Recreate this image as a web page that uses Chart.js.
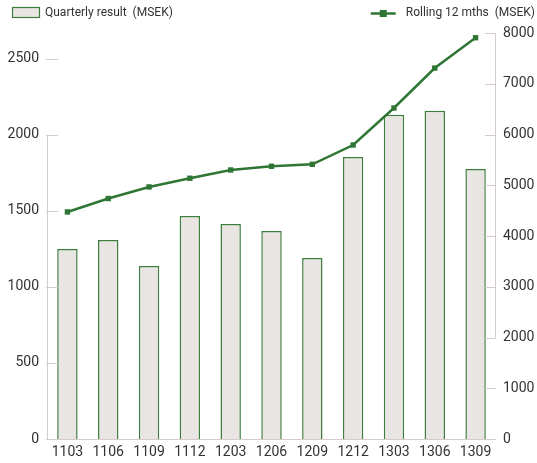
<!DOCTYPE html>
<html>
<head>
<meta charset="utf-8">
<script src="https://cdn.jsdelivr.net/npm/chart.js@4/dist/chart.umd.min.js"></script>
<style>
  html, body { margin: 0; padding: 0; background: #fff; }
  #wrap { width: 537px; height: 463px; position: relative; }
</style>
</head>
<body>
<div id="wrap"><canvas id="myChart" width="537" height="463"></canvas></div>
<script>
// data
const quarters = ["1103", "1106", "1109", "1112", "1203", "1206", "1209", "1212", "1303", "1306", "1309"];
const quarterlyResult = [1250, 1309, 1138, 1467, 1414, 1368, 1191, 1855, 2132, 2158, 1776];
const rolling12 = [4474, 4738, 4967, 5138, 5301, 5374, 5413, 5793, 6522, 7309, 7907];
const leftTicks = [0, 500, 1000, 1500, 2000, 2500];
const rightTicks = [0, 1000, 2000, 3000, 4000, 5000, 6000, 7000, 8000];
const barLabel = "Quarterly result  (MSEK)";
const lineLabel = "Rolling 12 mths  (MSEK)";

const FONT = 'Roboto, "Liberation Sans", sans-serif';
const textColor = "#333333";
const axisColor = "#d6cbcb";
const green = "#2f7534";
const barFill = "#e9e5e2";
const barEdge = "#3d7d3d";

// axis lines and inward tick marks like the original
const axisPlugin = {
  id: "axisPlugin",
  afterDatasetsDraw(chart) {
    const ctx = chart.ctx;
    const area = chart.chartArea;
    const y = chart.scales.y, y2 = chart.scales.y2;
    ctx.save();
    ctx.strokeStyle = axisColor;
    ctx.lineWidth = 1;
    ctx.beginPath();
    // left axis line only from 0 up to 2000
    ctx.moveTo(area.left + 0.5, y.getPixelForValue(0));
    ctx.lineTo(area.left + 0.5, y.getPixelForValue(2000));
    leftTicks.forEach(v => {
      const py = Math.round(y.getPixelForValue(v)) + 0.5;
      ctx.moveTo(area.left - 1, py);
      ctx.lineTo(area.left + 11, py);
    });
    // right axis line from 2000 up to 8000
    ctx.moveTo(area.right - 0.5, y2.getPixelForValue(2000));
    ctx.lineTo(area.right - 0.5, y2.getPixelForValue(8000));
    rightTicks.forEach(v => {
      const py = Math.round(y2.getPixelForValue(v)) + 0.5;
      ctx.moveTo(area.right - 11, py);
      ctx.lineTo(area.right, py);
    });
    // bottom axis
    const by = Math.round(y.getPixelForValue(0)) + 0.5;
    ctx.moveTo(area.left, by);
    ctx.lineTo(area.right - 4, by);
    ctx.stroke();
    ctx.restore();
  },
  afterDraw(chart) {
    const ctx = chart.ctx;
    ctx.save();
    ctx.font = "12px " + FONT;
    ctx.textBaseline = "middle";
    // bar legend
    ctx.fillStyle = barFill;
    ctx.fillRect(12, 7, 28, 11);
    ctx.strokeStyle = barEdge;
    ctx.lineWidth = 1.2;
    ctx.strokeRect(12.5, 7.5, 27, 10);
    ctx.fillStyle = textColor;
    ctx.fillText(barLabel, 45, 13);
    // line legend, marker sits left of the right-aligned text
    const tw = ctx.measureText(lineLabel).width;
    const tx = 535 - tw;
    ctx.strokeStyle = green;
    ctx.lineWidth = 2.5;
    ctx.beginPath();
    ctx.moveTo(tx - 35, 13.5);
    ctx.lineTo(tx - 10, 13.5);
    ctx.stroke();
    ctx.fillStyle = green;
    ctx.fillRect(tx - 26, 10, 7, 7);
    ctx.fillStyle = textColor;
    ctx.fillText(lineLabel, tx, 13);
    ctx.restore();
  }
};

const tickFont = { family: FONT, size: 14 };

new Chart(document.getElementById("myChart").getContext("2d"), {
  data: {
    labels: quarters,
    datasets: [
      {
        type: "line",
        label: lineLabel,
        data: rolling12,
        yAxisID: "y2",
        borderColor: green,
        backgroundColor: green,
        borderWidth: 2.5,
        pointStyle: "rect",
        pointRadius: 3.8,
        pointBorderWidth: 0,
        tension: 0,
        order: 0
      },
      {
        type: "bar",
        label: barLabel,
        data: quarterlyResult,
        yAxisID: "y",
        backgroundColor: barFill,
        borderColor: barEdge,
        borderWidth: 1.5,
        barPercentage: 0.5,
        categoryPercentage: 1,
        order: 1
      }
    ]
  },
  options: {
    responsive: false,
    animation: false,
    layout: { padding: { top: 33, left: 0, right: 0, bottom: 0 } },
    plugins: { legend: { display: false }, tooltip: { enabled: false } },
    scales: {
      x: {
        grid: { display: false, drawTicks: false },
        border: { display: false },
        ticks: { color: textColor, font: tickFont, padding: 5, maxRotation: 0, autoSkip: false },
        afterFit: s => { s.height = 24; }
      },
      y: {
        position: "left",
        min: 0,
        max: 2670,
        grid: { display: false, drawTicks: false },
        border: { display: false },
        afterBuildTicks: s => { s.ticks = leftTicks.map(v => ({ value: v })); },
        ticks: { color: textColor, font: tickFont, padding: 8, callback: v => String(v) },
        afterFit: s => { s.width = 47; }
      },
      y2: {
        position: "right",
        min: 0,
        max: 8000,
        grid: { display: false, drawTicks: false },
        border: { display: false },
        afterBuildTicks: s => { s.ticks = rightTicks.map(v => ({ value: v })); },
        ticks: { color: textColor, font: tickFont, padding: 7, callback: v => String(v) },
        afterFit: s => { s.width = 41; }
      }
    }
  },
  plugins: [axisPlugin]
});
</script>
</body>
</html>
